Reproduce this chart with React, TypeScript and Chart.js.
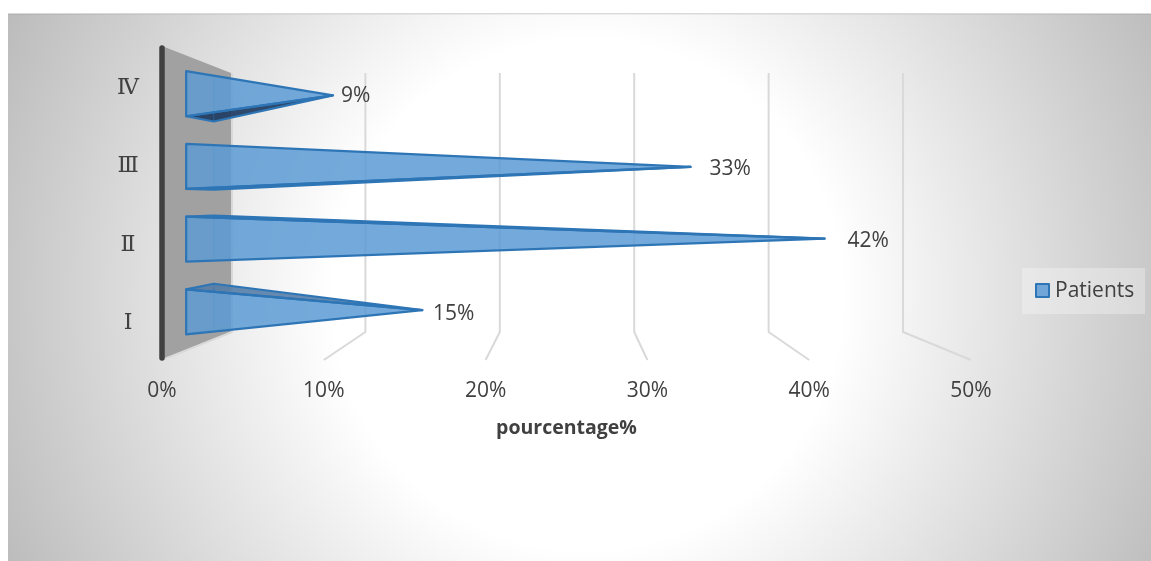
import React, { useEffect, useRef } from "react";
import { Chart, registerables } from "chart.js";

Chart.register(...registerables);

const categories = ["Ⅰ", "Ⅱ", "Ⅲ", "Ⅳ"];
const patients = [15, 42, 33, 9];
const seriesName = "Patients";
const axisTitle = "pourcentage%";

const TEXT = "#404040";
const FONT = "'Open Sans', sans-serif";

// Oblique depth of the 3D box: how the front plane maps onto the back plane.
const BACK_SHIFT_X = 69;
const BACK_SCALE_X = 0.8307;
const BACK_SHIFT_Y = 27;
const BACK_SCALE_Y = 0.8248;
const NEAR_DEPTH_X = 0.35;
const NEAR_DEPTH_Y = 0.42;
const FAR_DEPTH = 0.75;
const APEX_DEPTH_X = 0.467;
const APEX_DEPTH_Y = 0.5;
const APEX_NUDGE = 4.6;

type Pt = { x: number; y: number };

function projector(area: { left: number; top: number }) {
  return (fx: number, fy: number, dx: number, dy = dx): Pt => {
    const bx = area.left + BACK_SHIFT_X + (fx - area.left) * BACK_SCALE_X;
    const by = area.top + BACK_SHIFT_Y + (fy - area.top) * BACK_SCALE_Y;
    return { x: fx + (bx - fx) * dx, y: fy + (by - fy) * dy };
  };
}

function poly(ctx: CanvasRenderingContext2D, pts: Pt[]) {
  ctx.beginPath();
  pts.forEach((p, i) => (i ? ctx.lineTo(p.x, p.y) : ctx.moveTo(p.x, p.y)));
  ctx.closePath();
}

// Panel fill, floor and back grid, and the shaded category wall.
const boxPlugin = {
  id: "box3d",
  beforeDraw(chart: Chart) {
    const { ctx, width, height } = chart;
    ctx.save();
    const g = ctx.createRadialGradient(587, 295, 255, 587, 295, 640);
    g.addColorStop(0, "#ffffff");
    g.addColorStop(1, "#bcbcbc");
    ctx.fillStyle = g;
    ctx.fillRect(8, 13, width - 8, height - 13);
    ctx.fillStyle = "#d9d9d9";
    ctx.fillRect(8, 13, width - 8, 1);
    ctx.fillStyle = "rgba(0,0,0,0.05)";
    ctx.fillRect(8, 14, width - 8, 1);
    ctx.restore();
  },
  beforeDatasetsDraw(chart: Chart) {
    const { ctx, chartArea: a, scales } = chart;
    const project = projector(a);
    const x = scales.x;
    ctx.save();
    const wall = [
      { x: a.left, y: a.top },
      project(a.left, a.top, 1),
      project(a.left, a.bottom, 1),
      { x: a.left, y: a.bottom },
    ];
    poly(ctx, wall);
    ctx.fillStyle = "#a1a1a1";
    ctx.fill();
    ctx.lineWidth = 2;
    ctx.strokeStyle = "#d9d9d9";
    ctx.lineJoin = "round";
    x.ticks.forEach((t) => {
      const px = x.getPixelForValue(t.value);
      const top = project(px, a.top, 1);
      const bottom = project(px, a.bottom, 1);
      ctx.beginPath();
      ctx.moveTo(top.x + (t.value === 0 ? 1 : 0), top.y);
      ctx.lineTo(bottom.x + (t.value === 0 ? 1 : 0), bottom.y);
      ctx.lineTo(px, a.bottom);
      ctx.stroke();
    });
    ctx.strokeStyle = "#404040";
    ctx.lineWidth = 5.5;
    ctx.lineCap = "round";
    ctx.beginPath();
    ctx.moveTo(a.left, a.top + 2);
    ctx.lineTo(a.left, a.bottom - 2);
    ctx.stroke();
    ctx.restore();
  },
  afterDatasetsDraw(chart: Chart) {
    const { ctx, chartArea: a, scales } = chart;
    const project = projector(a);
    const x = scales.x;
    const zero = x.getPixelForValue(0);
    const meta = chart.getDatasetMeta(0);
    ctx.save();
    ctx.lineJoin = "round";
    meta.data.forEach((bar: any, i: number) => {
      const half = bar.height / 2;
      const cy = bar.y;
      const nt = project(zero, cy - half, NEAR_DEPTH_X, NEAR_DEPTH_Y);
      const nb = project(zero, cy + half, NEAR_DEPTH_X, NEAR_DEPTH_Y);
      const ft = project(zero, cy - half, FAR_DEPTH);
      const fb = project(zero, cy + half, FAR_DEPTH);
      const tip = project(bar.x, cy, APEX_DEPTH_X, APEX_DEPTH_Y);
      tip.x += APEX_NUDGE;

      // Hidden faces first; top and underside darken only when exposed.
      poly(ctx, [ft, fb, tip]);
      ctx.fillStyle = "rgba(91,155,213,0.25)";
      ctx.fill();
      const topShown = ft.y < nt.y;
      poly(ctx, [nt, ft, tip]);
      ctx.fillStyle = topShown ? "rgba(84,122,165,0.85)" : "rgba(91,155,213,0.2)";
      ctx.fill();
      const underShown = fb.y > nb.y;
      poly(ctx, [nb, fb, tip]);
      ctx.fillStyle = underShown ? "rgba(30,58,95,0.9)" : "rgba(91,155,213,0.2)";
      ctx.fill();

      ctx.strokeStyle = "rgba(46,117,182,0.35)";
      ctx.lineWidth = 1.5;
      ctx.beginPath();
      ctx.moveTo(ft.x, ft.y);
      ctx.lineTo(fb.x, fb.y);
      ctx.stroke();

      // Near face of the pyramid.
      poly(ctx, [nt, nb, tip]);
      ctx.fillStyle = "rgba(91,155,213,0.8)";
      ctx.fill();
      ctx.strokeStyle = "#2e75b6";
      ctx.lineWidth = 2.2;
      ctx.stroke();
      if (topShown) {
        poly(ctx, [nt, ft, tip]);
        ctx.stroke();
      }
      if (underShown) {
        poly(ctx, [nb, fb, tip]);
        ctx.stroke();
      }

      // Value label, pushed further from the apex as the value grows.
      const v = patients[i];
      const labelY = project(zero, cy, NEAR_DEPTH_X, NEAR_DEPTH_Y).y + 2.1;
      ctx.fillStyle = TEXT;
      ctx.font = `21px ${FONT}`;
      ctx.textAlign = "left";
      ctx.textBaseline = "middle";
      ctx.fillText(`${v}%`, tip.x + 4 + 0.45 * v, labelY);
    });

    // Legend plate on the right of the plot.
    ctx.fillStyle = "rgba(255,255,255,0.3)";
    ctx.fillRect(1022, 268, 123, 46);
    ctx.fillStyle = "rgba(91,155,213,0.85)";
    ctx.fillRect(1036, 284, 13, 13);
    ctx.strokeStyle = "#2e75b6";
    ctx.lineWidth = 2;
    ctx.strokeRect(1036, 284, 13, 13);
    ctx.fillStyle = TEXT;
    ctx.font = `21px ${FONT}`;
    ctx.textAlign = "left";
    ctx.textBaseline = "middle";
    ctx.fillText(seriesName, 1055, 291.5);
    ctx.restore();
  },
};

export default function App() {
  const ref = useRef<HTMLCanvasElement>(null);
  useEffect(() => {
    if (!ref.current) return;
    const chart = new Chart(ref.current, {
      type: "bar",
      data: {
        labels: categories,
        datasets: [
          {
            label: seriesName,
            data: patients,
            backgroundColor: "transparent",
            borderWidth: 0,
            barPercentage: 0.62,
            categoryPercentage: 1,
          },
        ],
      },
      options: {
        indexAxis: "y",
        responsive: false,
        animation: false,
        layout: { padding: { top: 46, right: 180, left: 0, bottom: 121 } },
        plugins: { legend: { display: false }, tooltip: { enabled: false } },
        scales: {
          x: {
            min: 0,
            max: 50,
            grid: { display: false, drawTicks: false },
            border: { display: false },
            ticks: {
              stepSize: 10,
              maxRotation: 0,
              padding: 18,
              color: TEXT,
              font: { family: FONT, size: 21 },
              callback: (v: any) => `${v}%`,
            },
            title: {
              display: true,
              text: axisTitle,
              color: TEXT,
              font: { family: FONT, size: 19.5, weight: "bold" },
              padding: { top: 8, bottom: 0 },
            },
            afterFit: (axis: any) => {
              axis.height = 80;
            },
          },
          y: {
            reverse: true,
            grid: { display: false, drawTicks: false },
            border: { display: false },
            ticks: {
              crossAlign: "center",
              padding: 23,
              labelOffset: 3,
              color: TEXT,
              font: { family: "'DejaVu Serif', serif", size: 22 },
            },
            afterFit: (axis: any) => {
              axis.width = 162;
            },
          },
        },
      },
      plugins: [boxPlugin],
    } as any);
    return () => chart.destroy();
  }, []);
  return (
    <canvas
      ref={ref}
      width={1151}
      height={561}
      style={{ position: "fixed", left: 0, top: 0, display: "block" }}
    />
  );
}
